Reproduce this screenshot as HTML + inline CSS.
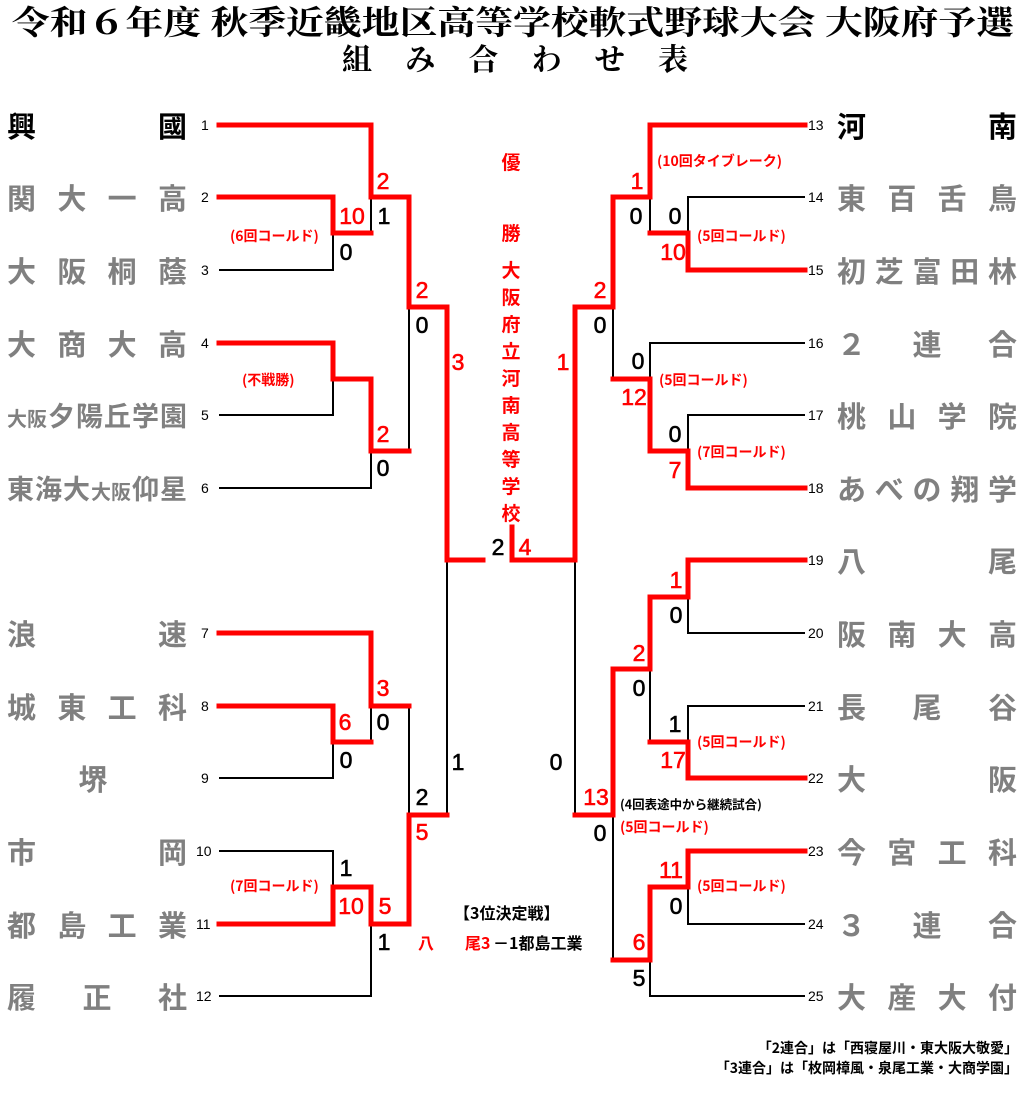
<!DOCTYPE html>
<html><head><meta charset="utf-8">
<style>
html,body{margin:0;padding:0;background:#fff;}
body{width:1024px;height:1106px;position:relative;overflow:hidden;font-family:"Liberation Sans","Noto Sans CJK JP",sans-serif;}
svg{position:absolute;left:0;top:0;}
.nm{position:absolute;display:flex;justify-content:space-between;align-items:baseline;font-weight:bold;color:#808080;font-size:29px;line-height:34px;height:34px;font-family:"Noto Sans CJK JP",sans-serif;}
.L{left:7px;width:180px;}
.R{left:837px;width:180px;}
.s{font-size:20px;}
.m{font-size:27px;}
</style></head><body>
<svg width="1024" height="1106" viewBox="0 0 1024 1106" font-family="Liberation Sans, Noto Sans CJK JP, sans-serif">
<text x="12" y="34" font-family="Noto Serif CJK SC, Liberation Serif, serif" font-weight="bold" font-size="33" textLength="1002" lengthAdjust="spacingAndGlyphs">令和６年度 秋季近畿地区高等学校軟式野球大会 大阪府予選</text>
<text x="342" y="70" font-family="Noto Serif CJK SC, Liberation Serif, serif" font-weight="bold" font-size="30" textLength="346" lengthAdjust="spacing">組 み 合 わ せ 表</text>

<g fill="none" stroke="#000" stroke-width="2">
<polyline points="219,270 333,270 333,233"/>
<polyline points="371,197 371,233"/>
<polyline points="219,415 333,415 333,379"/>
<polyline points="219,488 371,488 371,451"/>
<polyline points="409,307 409,451"/>
<polyline points="219,778 333,778 333,742"/>
<polyline points="371,706 371,742"/>
<polyline points="219,851 333,851 333,887"/>
<polyline points="219,996 371,996 371,924"/>
<polyline points="409,706 409,815"/>
<polyline points="447,560 447,815"/>
<polyline points="575,560 575,815"/>
<polyline points="805,197 688,197 688,233"/>
<polyline points="650,197 650,233"/>
<polyline points="805,343 650,343 650,379"/>
<polyline points="805,415 688,415 688,451"/>
<polyline points="613,307 613,379"/>
<polyline points="805,633 688,633 688,597"/>
<polyline points="650,669 650,742"/>
<polyline points="805,706 688,706 688,742"/>
<polyline points="613,815 613,960"/>
<polyline points="805,924 688,924 688,887"/>
<polyline points="805,996 650,996 650,960"/>
</g>
<g fill="none" stroke="#ff0000" stroke-width="5" stroke-linejoin="miter" stroke-linecap="square">
<polyline points="219,197 333,197 333,233 371,233"/>
<polyline points="219,125 371,125 371,197 409,197"/>
<polyline points="219,343 333,343 333,379 371,379 371,451 409,451"/>
<polyline points="409,197 409,307 447,307 447,560 483,560"/>
<polyline points="219,706 333,706 333,742 371,742"/>
<polyline points="219,633 371,633 371,706 409,706"/>
<polyline points="219,924 333,924 333,887 371,887 371,924 409,924"/>
<polyline points="409,924 409,815 447,815"/>
<polyline points="512,527 512,560 575,560 575,307 613,307 613,197 650,197 650,125 805,125"/>
<polyline points="805,270 688,270 688,233 650,233"/>
<polyline points="805,488 688,488 688,451 650,451 650,379 613,379"/>
<polyline points="805,560 688,560 688,597 650,597 650,669 613,669 613,815 575,815"/>
<polyline points="805,778 688,778 688,742 650,742"/>
<polyline points="805,851 688,851 688,887 650,887 650,960 613,960"/>
</g>

<g font-size="14" fill="#000">
<text x="201" y="130">1</text><text x="201" y="202">2</text><text x="201" y="275">3</text>
<text x="201" y="348">4</text><text x="201" y="420">5</text><text x="201" y="493">6</text>
<text x="201" y="638">7</text><text x="201" y="711">8</text><text x="201" y="783">9</text>
<text x="196" y="856">10</text><text x="196" y="929">11</text><text x="196" y="1001">12</text>
<text x="808" y="130">13</text><text x="808" y="202">14</text><text x="808" y="275">15</text>
<text x="808" y="348">16</text><text x="808" y="420">17</text><text x="808" y="493">18</text>
<text x="808" y="565">19</text><text x="808" y="638">20</text><text x="808" y="711">21</text>
<text x="808" y="783">22</text><text x="808" y="856">23</text><text x="808" y="929">24</text>
<text x="808" y="1001">25</text>
</g>

<g font-size="23" text-anchor="middle" stroke-width="0.6">
<g fill="#ff0000" stroke="#ff0000">
<text x="383" y="189">2</text><text x="352" y="224">10</text><text x="422" y="298">2</text>
<text x="458" y="370">3</text><text x="383" y="442">2</text>
<text x="383" y="696">3</text><text x="345" y="730">6</text><text x="422" y="840">5</text>
<text x="351" y="914">10</text><text x="385" y="914">5</text>
<text x="525" y="555">4</text><text x="563" y="370">1</text>
<text x="637" y="189">1</text><text x="673" y="260">10</text><text x="600" y="298">2</text>
<text x="634" y="405">12</text><text x="675" y="478">7</text>
<text x="676" y="588">1</text><text x="639" y="661">2</text><text x="673" y="768">17</text>
<text x="596" y="805">13</text><text x="671" y="878">11</text><text x="639" y="950">6</text>
</g>
<g fill="#000" stroke="#000">
<text x="384" y="224">1</text><text x="346" y="260">0</text><text x="422" y="333">0</text>
<text x="383" y="476">0</text>
<text x="383" y="730">0</text><text x="346" y="768">0</text><text x="422" y="805">2</text>
<text x="346" y="876">1</text><text x="384" y="950">1</text>
<text x="498" y="555">2</text><text x="458" y="770">1</text><text x="556" y="770">0</text>
<text x="636" y="224">0</text><text x="675" y="224">0</text><text x="600" y="333">0</text>
<text x="638" y="369">0</text><text x="675" y="442">0</text>
<text x="676" y="623">0</text><text x="639" y="696">0</text><text x="675" y="732">1</text>
<text x="600" y="841">0</text><text x="676" y="914">0</text><text x="639" y="986">5</text>
</g>
</g>

<g font-size="14" font-weight="bold" fill="#ff0000" font-family="Noto Sans CJK JP, sans-serif">
<text x="230" y="241">(6回コールド)</text>
<text x="242" y="385">(不戦勝)</text>
<text x="230" y="891">(7回コールド)</text>
<text x="657" y="166">(10回タイブレーク)</text>
<text x="697" y="241">(5回コールド)</text>
<text x="659" y="385">(5回コールド)</text>
<text x="697" y="457">(7回コールド)</text>
<text x="697" y="747">(5回コールド)</text>
<text x="620" y="832">(5回コールド)</text>
<text x="697" y="891">(5回コールド)</text>
<text x="620" y="809" fill="#000" font-size="12.5">(4回表途中から継続試合)</text>
</g>

<g font-size="19" font-weight="bold" fill="#ff0000" text-anchor="middle" font-family="Noto Sans CJK JP, sans-serif">
<text x="511" y="169">優</text><text x="511" y="240">勝</text>
<text x="511" y="277">大</text><text x="511" y="304">阪</text><text x="511" y="331">府</text>
<text x="511" y="358">立</text><text x="511" y="385">河</text><text x="511" y="412">南</text>
<text x="511" y="439">高</text><text x="511" y="466">等</text><text x="511" y="493">学</text>
<text x="511" y="520">校</text>
</g>

<g font-size="16" font-weight="bold" font-family="Noto Sans CJK JP, sans-serif">
<text x="454" y="919">【3位決定戦】</text>
<text x="418" y="949" fill="#ff0000">八</text>
<text x="465" y="949" fill="#ff0000">尾3</text>
<text x="493" y="949">－1都島工業</text>
</g>

<g font-size="14" font-weight="bold" text-anchor="end" font-family="Noto Sans CJK JP, sans-serif">
<text x="1018" y="1053">「2連合」は「西寝屋川・東大阪大敬愛」</text>
<text x="1018" y="1073">「3連合」は「枚岡樟風・泉尾工業・大商学園」</text>
</g>
</svg>

<div class="nm L" style="top:108px;color:#000"><span>興</span><span>國</span></div>
<div class="nm L" style="top:180px"><span>関</span><span>大</span><span>一</span><span>高</span></div>
<div class="nm L" style="top:253px"><span>大</span><span>阪</span><span>桐</span><span>蔭</span></div>
<div class="nm L" style="top:326px"><span>大</span><span>商</span><span>大</span><span>高</span></div>
<div class="nm L" style="top:398px"><span class="s">大阪</span><span class="m">夕</span><span class="m">陽</span><span class="m">丘</span><span class="m">学</span><span class="m">園</span></div>
<div class="nm L" style="top:471px"><span class="m">東</span><span class="m">海</span><span class="m">大</span><span class="s">大阪</span><span class="m">仰</span><span class="m">星</span></div>
<div class="nm L" style="top:616px"><span>浪</span><span>速</span></div>
<div class="nm L" style="top:689px"><span>城</span><span>東</span><span>工</span><span>科</span></div>
<div class="nm L" style="top:761px;justify-content:center"><span style="margin-left:-8px">堺</span></div>
<div class="nm L" style="top:834px"><span>市</span><span>岡</span></div>
<div class="nm L" style="top:907px"><span>都</span><span>島</span><span>工</span><span>業</span></div>
<div class="nm L" style="top:979px"><span>履</span><span>正</span><span>社</span></div>

<div class="nm R" style="top:108px;color:#000"><span>河</span><span>南</span></div>
<div class="nm R" style="top:180px"><span>東</span><span>百</span><span>舌</span><span>鳥</span></div>
<div class="nm R" style="top:253px"><span>初</span><span>芝</span><span>富</span><span>田</span><span>林</span></div>
<div class="nm R" style="top:326px"><span>２</span><span>連</span><span>合</span></div>
<div class="nm R" style="top:398px"><span>桃</span><span>山</span><span>学</span><span>院</span></div>
<div class="nm R" style="top:471px"><span>あ</span><span>べ</span><span>の</span><span>翔</span><span>学</span></div>
<div class="nm R" style="top:543px"><span>八</span><span>尾</span></div>
<div class="nm R" style="top:616px"><span>阪</span><span>南</span><span>大</span><span>高</span></div>
<div class="nm R" style="top:689px"><span>長</span><span>尾</span><span>谷</span></div>
<div class="nm R" style="top:761px"><span>大</span><span>阪</span></div>
<div class="nm R" style="top:834px"><span>今</span><span>宮</span><span>工</span><span>科</span></div>
<div class="nm R" style="top:907px"><span>３</span><span>連</span><span>合</span></div>
<div class="nm R" style="top:979px"><span>大</span><span>産</span><span>大</span><span>付</span></div>
</body></html>
